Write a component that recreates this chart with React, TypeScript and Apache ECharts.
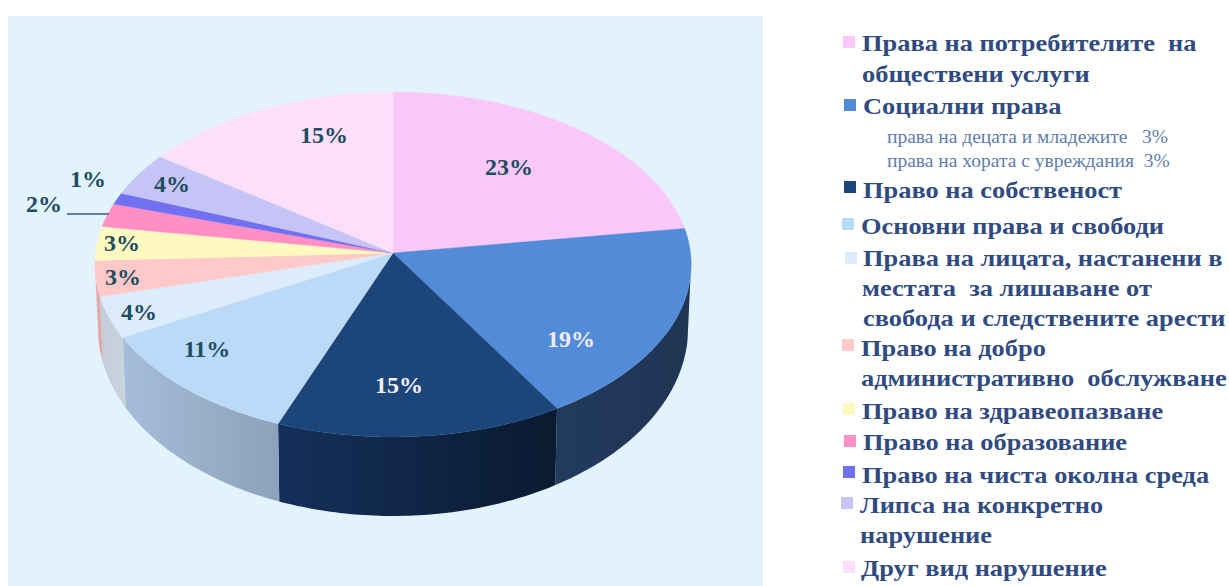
import React, { useEffect, useRef } from "react";
import * as echarts from "echarts";

// ---- data ----
const categories = [
  "Права на потребителите на обществени услуги",
  "Социални права",
  "Право на собственост",
  "Основни права и свободи",
  "Права на лицата, настанени в местата за лишаване от свобода и следствените арести",
  "Право на добро административно обслужване",
  "Право на здравеопазване",
  "Право на образование",
  "Право на чиста околна среда",
  "Липса на конкретно нарушение",
  "Друг вид нарушение",
];
const sliceShares = [22.7, 18.6, 14.6, 11.2, 3.9, 3.3, 3.2, 2.2, 1.1, 4.1, 15.1];
const sliceLabels = ["23%", "19%", "15%", "11%", "4%", "3%", "3%", "2%", "1%", "4%", "15%"];
const topColors = ["#f9c8f9", "#528bd8", "#1c4679", "#badaf8", "#dcecfb", "#ffc9c9", "#fdf9c0", "#ff8fc4", "#7070f0", "#c6c4f6", "#fbdffb"];
const wallLeft = ["#f9c8f9", "#223a5c", "#14305a", "#a5bdd9", "#c3ced9", "#e6adab", "#e6e0a8", "#e080a8", "#6060d0", "#b0aede", "#e0c8e0"];
const wallRight = ["#f9c8f9", "#1f3554", "#0a1a30", "#8ca2bb", "#c8d3de", "#e0a6a4", "#e6e0a8", "#e080a8", "#6060d0", "#b0aede", "#e0c8e0"];
const labelColors = ["#1d4d60", "#f3ecfa", "#f3ecfa", "#1d4d60", "#1d4d60", "#1d4d60", "#1d4d60", "#1d4d60", "#1d4d60", "#1d4d60", "#1d4d60"];

// ---- layout ----
const W = 1229, H = 586;
const CX = 393, CY = 253, RX = 297.5, RY = 171.7, PERSP = 0.0667;
const labelPos = [[509, 167], [571, 339], [399, 385], [207, 349], [139, 312], [123, 277], [122, 243], [44, 204], [88, 179], [172, 184], [324, 135]];
const WALL_MIN_Y = 0.13;

const legendMarkers: [number, number, number][] = [
  [0, 843, 36], [1, 844, 99], [2, 844, 181], [3, 842, 218], [4, 845, 252],
  [5, 842, 339], [6, 843, 403], [7, 844, 435], [8, 843, 466], [9, 841, 497], [10, 843, 561],
];
const legendLines: [string, number, number][] = [
  ["Права на потребителите  на", 862, 43],
  ["обществени услуги", 862, 74],
  ["Социални права", 863, 106],
  ["Право на собственост", 863, 190],
  ["Основни права и свободи", 861, 226],
  ["Права на лицата, настанени в", 863, 258],
  ["местата  за лишаване от", 862, 288],
  ["свобода и следствените арести", 863, 318],
  ["Право на добро", 861, 348],
  ["административно  обслужване", 861, 378],
  ["Право на здравеопазване", 862, 411],
  ["Право на образование", 863, 442],
  ["Право на чиста околна среда", 862, 475],
  ["Липса на конкретно", 860, 505],
  ["нарушение", 860, 535],
  ["Друг вид нарушение", 861, 568],
];
const legendSubLines: [string, number, number][] = [
  ["права на децата и младежите   3%", 887, 136],
  ["права на хората с увреждания  3%", 887, 160],
];

const cumulative: number[][] = [];
sliceShares.reduce((acc, v) => {
  cumulative.push([acc, acc + v]);
  return acc + v;
}, 0);
const total = sliceShares.reduce((a, b) => a + b, 0);
const seriesData = cumulative.map((value, i) => ({ name: categories[i], value }));

function rimY(share: number) {
  return -Math.cos((share / total) * 2 * Math.PI);
}
function rim(share: number): number[] {
  const t = (share / total) * 2 * Math.PI;
  const X = Math.sin(t), Y = -Math.cos(t);
  const f = 1 / (1 - PERSP * Y);
  return [CX + RX * X * f, CY + RY * Y * f];
}
function rimBottom(share: number): number[] {
  const [x, y] = rim(share);
  return [CX + (x - CX) * 0.99, y + 62 + 17 * rimY(share)];
}
function arc(s: number, e: number) {
  const pts: number[] = [];
  const n = Math.max(2, Math.ceil((e - s) * 4));
  for (let i = 0; i <= n; i++) pts.push(s + ((e - s) * i) / n);
  return pts;
}

const FONT = '"Liberation Serif", serif';

export default function App() {
  const ref = useRef<HTMLDivElement>(null);
  useEffect(() => {
    document.body.style.margin = "0";
    const chart = echarts.init(ref.current!, undefined, { renderer: "svg" });
    const graphics: any[] = [
      { type: "rect", z: 0, shape: { x: 8, y: 16, width: 755, height: 570 }, style: { fill: "#e3f3fe" } },
      { type: "line", z: 20, shape: { x1: 67, y1: 214, x2: 109, y2: 214 }, style: { stroke: "#3a5488", lineWidth: 1.4 } },
    ];
    legendMarkers.forEach(([i, x, y]) => {
      graphics.push({ type: "rect", z: 5, shape: { x, y, width: 12, height: 12 }, style: { fill: topColors[i] } });
    });
    legendLines.forEach(([text, x, y]) => {
      graphics.push({
        type: "text", z: 5, x, y, scaleX: 1.1,
        style: { text, fill: "#2f4b82", font: `bold 24px ${FONT}`, align: "left", verticalAlign: "middle" },
      });
    });
    legendSubLines.forEach(([text, x, y]) => {
      graphics.push({
        type: "text", z: 5, x, y,
        style: { text, fill: "#5f7cab", font: `19.5px ${FONT}`, align: "left", verticalAlign: "middle" },
      });
    });

    chart.setOption({
      animation: false,
      backgroundColor: "#ffffff",
      graphic: graphics,
      series: [
        {
          type: "custom", name: "walls", coordinateSystem: "none", z: 2, clip: false, silent: true,
          data: seriesData,
          renderItem: (params: any, api: any) => {
            const s = api.value(0), e = api.value(1);
            const minS = (total * (Math.PI - Math.acos(WALL_MIN_Y))) / (2 * Math.PI);
            const maxS = total - minS;
            const a = Math.max(s, minS), b = Math.min(e, maxS);
            if (b <= a) return null;
            const shares = arc(a, b);
            const points = [...shares.map(rim), ...shares.slice().reverse().map(rimBottom)];
            const i = params.dataIndex;
            const fill = {
              type: "linear", x: 0, y: 0, x2: 1, y2: 0,
              colorStops: [{ offset: 0, color: wallLeft[i] }, { offset: 1, color: wallRight[i] }],
            };
            return { type: "polygon", shape: { points }, style: { fill } };
          },
        },
        {
          type: "custom", name: "tops", coordinateSystem: "none", z: 3, clip: false, silent: true,
          data: seriesData,
          renderItem: (params: any, api: any) => {
            const s = api.value(0), e = api.value(1);
            const points = [[CX, CY], ...arc(s, e).map(rim)];
            const c = topColors[params.dataIndex];
            return { type: "polygon", shape: { points }, style: { fill: c, stroke: c, lineWidth: 0.4 } };
          },
        },
        {
          type: "custom", name: "labels", coordinateSystem: "none", z: 4, clip: false, silent: true,
          data: sliceLabels.map((_, i) => [i]),
          renderItem: (_p: any, api: any) => {
            const i = api.value(0);
            return {
              type: "text", x: labelPos[i][0], y: labelPos[i][1],
              style: {
                text: sliceLabels[i], fill: labelColors[i],
                font: `bold 24px ${FONT}`, align: "center", verticalAlign: "middle",
              },
            };
          },
        },
      ],
    });
    return () => chart.dispose();
  }, []);
  return <div ref={ref} style={{ width: W, height: H }} />;
}
